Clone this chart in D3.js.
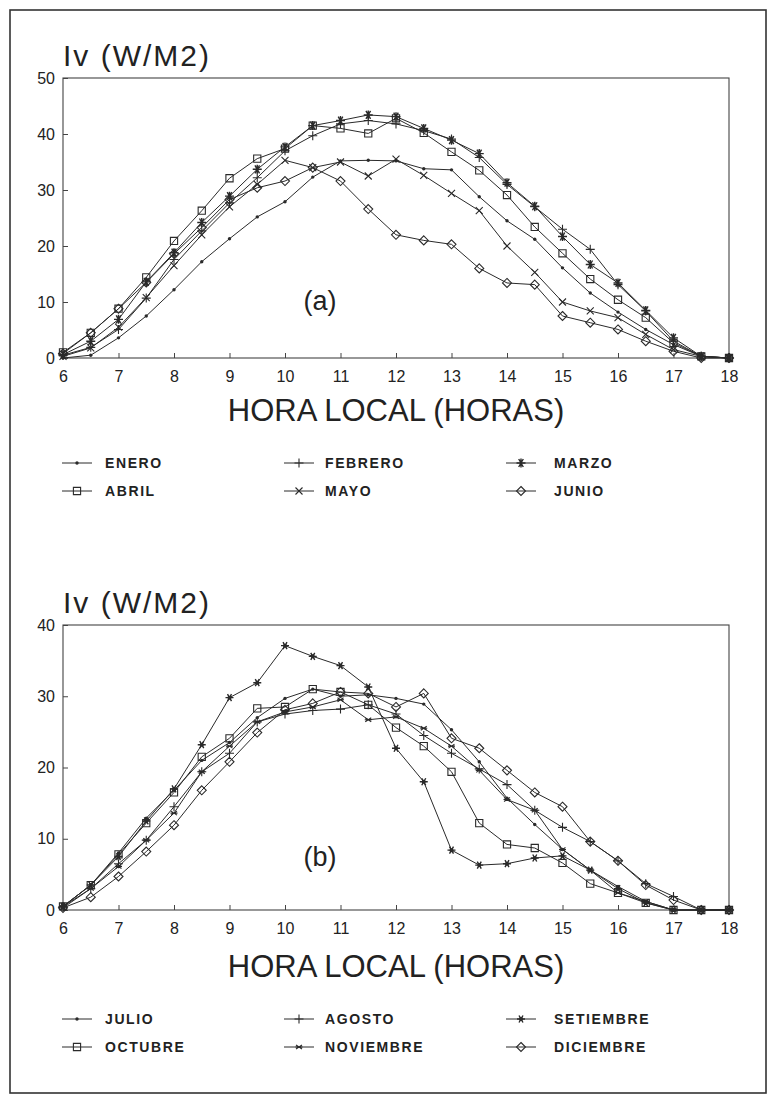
<!DOCTYPE html>
<html>
<head>
<meta charset="utf-8">
<script src="https://cdn.jsdelivr.net/npm/d3@7"></script>
<style>
  html, body { margin: 0; padding: 0; background: #fff; }
  svg { display: block; }
  text { font-family: "Liberation Sans", Arial, sans-serif; fill: #222; }
</style>
</head>
<body>
<svg id="chart" width="772" height="1097"></svg>
<script>
// ---------- DATA ----------
const hours = [6, 6.5, 7, 7.5, 8, 8.5, 9, 9.5, 10, 10.5, 11, 11.5, 12, 12.5, 13, 13.5, 14, 14.5, 15, 15.5, 16, 16.5, 17, 17.5, 18];
const xTicks = [6, 7, 8, 9, 10, 11, 12, 13, 14, 15, 16, 17, 18];
const yTicksA = [0, 10, 20, 30, 40, 50];
const yTicksB = [0, 10, 20, 30, 40];

// Panel (a)
const monthsA = ["ENERO", "FEBRERO", "MARZO", "ABRIL", "MAYO", "JUNIO"];
const enero   = [0, 0.5, 3.6, 7.5, 12.2, 17.2, 21.3, 25.2, 27.9, 32.3, 35.2, 35.3, 35.2, 33.8, 33.6, 28.8, 24.5, 21.2, 16.1, 11.6, 8.2, 5.1, 2.4, 0.3, 0];
const febrero = [0.5, 1.9, 5.1, 10.7, 17.6, 22.7, 27.7, 32.2, 37.0, 39.7, 41.8, 42.4, 41.8, 40.6, 39.1, 35.8, 31.0, 27.0, 23.0, 19.4, 13.1, 8.4, 3.0, 0.3, 0];
const marzo   = [0.6, 3.0, 6.9, 13.6, 18.8, 24.2, 28.9, 33.7, 37.7, 41.5, 42.4, 43.4, 43.1, 41.0, 38.9, 36.5, 31.3, 27.1, 21.7, 16.7, 13.4, 8.5, 3.6, 0.3, 0];
const abril   = [1.0, 4.5, 8.8, 14.4, 20.9, 26.3, 32.1, 35.6, 37.4, 41.5, 41.0, 40.1, 42.8, 40.2, 36.8, 33.5, 29.1, 23.4, 18.7, 14.1, 10.4, 7.2, 2.7, 0.3, 0];
const mayo    = [0.3, 1.8, 5.5, 10.8, 16.5, 22.0, 27.0, 31.0, 35.3, 34.0, 35.0, 32.5, 35.5, 32.6, 29.4, 26.3, 20.0, 15.3, 10.0, 8.4, 7.2, 4.2, 1.5, 0.3, 0];
const junio   = [0.8, 4.5, 8.8, 13.5, 18.6, 23.3, 28.3, 30.4, 31.6, 34.0, 31.6, 26.6, 22.0, 21.0, 20.3, 16.0, 13.4, 13.1, 7.5, 6.3, 5.1, 3.0, 1.2, 0, 0];

// Panel (b)
const monthsB = ["JULIO", "AGOSTO", "SETIEMBRE", "OCTUBRE", "NOVIEMBRE", "DICIEMBRE"];
const julio      = [0.5, 3.5, 8.0, 12.9, 16.8, 21.0, 23.5, 27.0, 29.7, 31.0, 30.0, 30.2, 29.7, 28.9, 25.3, 20.8, 15.7, 12.0, 8.5, 5.6, 3.3, 1.2, 0, 0, 0];
const agosto     = [0.5, 3.0, 6.5, 9.8, 14.5, 19.4, 22.0, 26.4, 27.5, 28.0, 28.2, 28.8, 27.5, 24.5, 22.0, 19.8, 17.6, 14.0, 11.6, 9.6, 6.9, 3.7, 1.9, 0, 0];
const setiembre  = [0.5, 3.5, 7.5, 12.5, 17.0, 23.2, 29.8, 31.9, 37.1, 35.6, 34.3, 31.3, 22.7, 18.0, 8.4, 6.3, 6.5, 7.3, 7.6, 5.6, 3.0, 1.0, 0, 0, 0];
const octubre    = [0.5, 3.5, 7.8, 12.2, 16.5, 21.5, 24.1, 28.3, 28.5, 31.0, 30.6, 28.8, 25.6, 23.0, 19.4, 12.2, 9.2, 8.7, 6.6, 3.7, 2.4, 1.0, 0, 0, 0];
const noviembre  = [0.3, 3.0, 6.1, 9.8, 13.6, 19.4, 23.0, 26.4, 27.8, 28.5, 29.5, 26.7, 27.1, 25.5, 23.0, 19.6, 15.5, 14.0, 8.5, 5.6, 2.4, 1.2, 0, 0, 0];
const diciembre  = [0.3, 1.8, 4.7, 8.2, 11.9, 16.8, 20.8, 24.9, 28.1, 29.0, 30.6, 30.4, 28.5, 30.4, 24.1, 22.7, 19.6, 16.5, 14.5, 9.6, 6.9, 3.5, 1.4, 0, 0];

const seriesA = [enero, febrero, marzo, abril, mayo, junio];
const seriesB = [julio, agosto, setiembre, octubre, noviembre, diciembre];
const markersA = ["dot", "plus", "asterisk", "square", "times", "diamond"];
const markersB = ["dot", "plus", "star", "square", "timesSmall", "diamond"];

// ---------- DRAW ----------
const svg = d3.select("#chart");
const ink = "#2a2a2a";

// outer frame
svg.append("rect").attr("x", 10).attr("y", 10).attr("width", 756).attr("height", 1083)
  .attr("fill", "none").attr("stroke", "#333").attr("stroke-width", 1.6);

const markerPaths = {
  plus: "M-4.5,0H4.5M0,-4.5V4.5",
  asterisk: "M-4.5,0H4.5M-2.3,-4L2.3,4M-2.3,4L2.3,-4M0,-4.5V4.5",
  star: "M-4,0H4M-2,-3.5L2,3.5M-2,3.5L2,-3.5",
  square: "M-3.6,-3.6H3.6V3.6H-3.6Z",
  times: "M-3.5,-3.5L3.5,3.5M-3.5,3.5L3.5,-3.5",
  timesSmall: "M-3,-2L3,2M-3,2L3,-2M-3.5,0H3.5",
  diamond: "M0,-4.5L4.5,0L0,4.5L-4.5,0Z"
};

function drawMarker(g, type, x, y) {
  if (type === "dot") {
    g.append("circle").attr("cx", x).attr("cy", y).attr("r", 1.7).attr("fill", ink);
    return;
  }
  g.append("path").attr("d", markerPaths[type])
    .attr("transform", `translate(${x},${y})`)
    .attr("fill", "none").attr("stroke", ink).attr("stroke-width", type === "asterisk" || type === "star" ? 1.4 : 1.1);
  if (type === "star") {
    g.append("circle").attr("cx", x).attr("cy", y).attr("r", 2).attr("fill", ink);
  }
}

function panel(opts) {
  const { top, bottom, yMax, yTicks, series, markers, names, title, tag, tagY, xTitleY, legendY } = opts;
  const left = 63, right = 729;
  const x = d3.scaleLinear().domain([6, 18]).range([left, right]);
  const y = d3.scaleLinear().domain([0, yMax]).range([bottom, top]);
  const g = svg.append("g");

  g.append("rect").attr("x", left).attr("y", top).attr("width", right - left).attr("height", bottom - top)
    .attr("fill", "none").attr("stroke", "#444").attr("stroke-width", 1.1);

  const xa = g.append("g").attr("transform", `translate(0,${bottom})`)
    .call(d3.axisBottom(x).tickValues(xTicks).tickSizeInner(-5).tickSizeOuter(0).tickPadding(13).tickFormat(d3.format("d")));
  const ya = g.append("g").attr("transform", `translate(${left},0)`)
    .call(d3.axisLeft(y).tickValues(yTicks).tickSizeInner(-5).tickSizeOuter(0).tickPadding(8).tickFormat(d3.format("d")));
  [xa, ya].forEach(a => {
    a.select(".domain").remove();
    a.selectAll(".tick line").attr("stroke", "#444");
    a.selectAll(".tick text").attr("font-size", 16).attr("fill", ink)
      .attr("font-family", '"Liberation Sans", Arial, sans-serif');
  });

  const line = d3.line().x((d, i) => x(hours[i])).y(d => y(d));
  series.forEach((s, k) => {
    g.append("path").datum(s).attr("d", line).attr("fill", "none")
      .attr("stroke", ink).attr("stroke-width", 1);
    s.forEach((v, i) => drawMarker(g, markers[k], x(hours[i]), y(v)));
  });

  g.append("text").attr("x", left).attr("y", top - 12).attr("font-size", 30)
    .attr("letter-spacing", 2).text(title);
  g.append("text").attr("x", 320).attr("y", tagY).attr("text-anchor", "middle")
    .attr("font-size", 27).text(tag);
  g.append("text").attr("x", 396).attr("y", xTitleY).attr("text-anchor", "middle")
    .attr("font-size", 31).text("HORA LOCAL (HORAS)");

  const colX = [62, 284, 506];
  const textX = [105, 325, 554];
  names.forEach((n, k) => {
    const col = k % 3, row = Math.floor(k / 3);
    const ly = legendY + row * 28;
    g.append("line").attr("x1", colX[col]).attr("x2", colX[col] + 30).attr("y1", ly).attr("y2", ly)
      .attr("stroke", ink).attr("stroke-width", 1);
    drawMarker(g, markers[k], colX[col] + 15, ly);
    g.append("text").attr("x", textX[col]).attr("y", ly + 5).attr("font-size", 14)
      .attr("font-weight", "bold").attr("letter-spacing", 1.6).attr("fill", "#3a3a3a").text(n);
  });
}

panel({ top: 78, bottom: 358, yMax: 50, yTicks: yTicksA, series: seriesA, markers: markersA,
  names: monthsA, title: "Iv (W/M2)", tag: "(a)", tagY: 310, xTitleY: 421, legendY: 463 });
panel({ top: 625, bottom: 910, yMax: 40, yTicks: yTicksB, series: seriesB, markers: markersB,
  names: monthsB, title: "Iv (W/M2)", tag: "(b)", tagY: 866, xTitleY: 977, legendY: 1019 });
</script>
</body>
</html>
